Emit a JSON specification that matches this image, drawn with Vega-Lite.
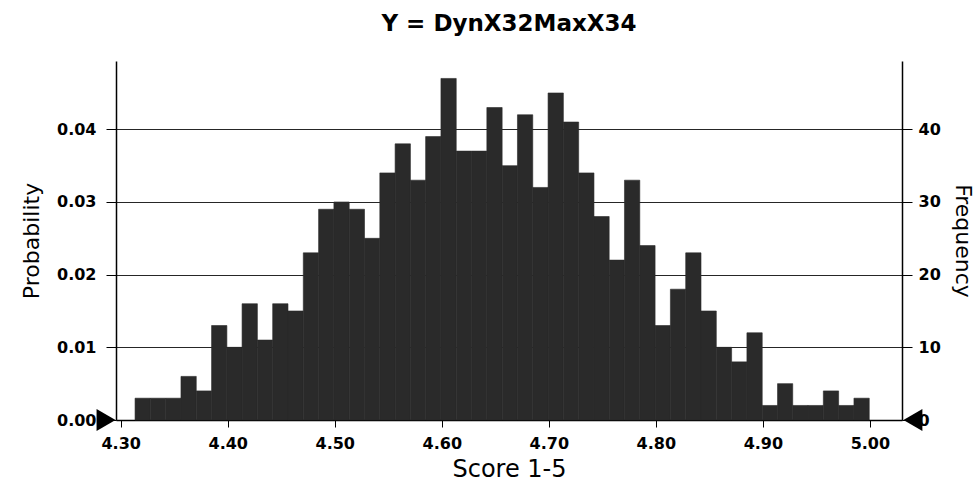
{
  "$schema": "https://vega.github.io/schema/vega-lite/v6.json",
  "width": 786,
  "height": 359,
  "autosize": {"type": "none"},
  "padding": {"left": 116, "top": 61, "right": 76, "bottom": 75},
  "background": "white",
  "config": {
    "view": {"stroke": null},
    "font": "DejaVu Sans",
    "axis": {"labelFont": "DejaVu Sans", "titleFont": "DejaVu Sans", "labelColor": "black", "titleColor": "black", "domainColor": "black", "tickColor": "black"}
  },
  "title": {"text": "Y = DynX32MaxX34", "font": "DejaVu Sans", "fontSize": 23, "fontWeight": "bold", "color": "black", "anchor": "middle", "baseline": "alphabetic", "offset": 7},
  "datasets": {
    "bins": [
      {"start": 4.3134, "end": 4.3277, "frequency": 3},
      {"start": 4.3277, "end": 4.3420, "frequency": 3},
      {"start": 4.3420, "end": 4.3563, "frequency": 3},
      {"start": 4.3563, "end": 4.3706, "frequency": 6},
      {"start": 4.3706, "end": 4.3849, "frequency": 4},
      {"start": 4.3849, "end": 4.3992, "frequency": 13},
      {"start": 4.3992, "end": 4.4134, "frequency": 10},
      {"start": 4.4134, "end": 4.4277, "frequency": 16},
      {"start": 4.4277, "end": 4.4420, "frequency": 11},
      {"start": 4.4420, "end": 4.4563, "frequency": 16},
      {"start": 4.4563, "end": 4.4706, "frequency": 15},
      {"start": 4.4706, "end": 4.4849, "frequency": 23},
      {"start": 4.4849, "end": 4.4992, "frequency": 29},
      {"start": 4.4992, "end": 4.5135, "frequency": 30},
      {"start": 4.5135, "end": 4.5278, "frequency": 29},
      {"start": 4.5278, "end": 4.5421, "frequency": 25},
      {"start": 4.5421, "end": 4.5564, "frequency": 34},
      {"start": 4.5564, "end": 4.5707, "frequency": 38},
      {"start": 4.5707, "end": 4.5849, "frequency": 33},
      {"start": 4.5849, "end": 4.5992, "frequency": 39},
      {"start": 4.5992, "end": 4.6135, "frequency": 47},
      {"start": 4.6135, "end": 4.6278, "frequency": 37},
      {"start": 4.6278, "end": 4.6421, "frequency": 37},
      {"start": 4.6421, "end": 4.6564, "frequency": 43},
      {"start": 4.6564, "end": 4.6707, "frequency": 35},
      {"start": 4.6707, "end": 4.6850, "frequency": 42},
      {"start": 4.6850, "end": 4.6993, "frequency": 32},
      {"start": 4.6993, "end": 4.7136, "frequency": 45},
      {"start": 4.7136, "end": 4.7279, "frequency": 41},
      {"start": 4.7279, "end": 4.7422, "frequency": 34},
      {"start": 4.7422, "end": 4.7564, "frequency": 28},
      {"start": 4.7564, "end": 4.7707, "frequency": 22},
      {"start": 4.7707, "end": 4.7850, "frequency": 33},
      {"start": 4.7850, "end": 4.7993, "frequency": 24},
      {"start": 4.7993, "end": 4.8136, "frequency": 13},
      {"start": 4.8136, "end": 4.8279, "frequency": 18},
      {"start": 4.8279, "end": 4.8422, "frequency": 23},
      {"start": 4.8422, "end": 4.8565, "frequency": 15},
      {"start": 4.8565, "end": 4.8708, "frequency": 10},
      {"start": 4.8708, "end": 4.8851, "frequency": 8},
      {"start": 4.8851, "end": 4.8994, "frequency": 12},
      {"start": 4.8994, "end": 4.9137, "frequency": 2},
      {"start": 4.9137, "end": 4.9279, "frequency": 5},
      {"start": 4.9279, "end": 4.9422, "frequency": 2},
      {"start": 4.9422, "end": 4.9565, "frequency": 2},
      {"start": 4.9565, "end": 4.9708, "frequency": 4},
      {"start": 4.9708, "end": 4.9851, "frequency": 2},
      {"start": 4.9851, "end": 4.9994, "frequency": 3}
    ],
    "grabbers": [
      {"pos": 4.2863, "level": 0, "side": "left"},
      {"pos": 5.0402, "level": 0, "side": "right"}
    ]
  },
  "layer": [
    {
      "data": {"name": "bins"},
      "mark": {"type": "bar", "color": "#2a2a2a", "stroke": "#2a2a2a", "strokeWidth": 0.6},
      "encoding": {
        "x": {
          "field": "start", "type": "quantitative",
          "scale": {"domain": [4.2956, 5.03], "nice": false, "zero": false},
          "axis": {"title": "Score 1-5", "values": [4.3, 4.4, 4.5, 4.6, 4.7, 4.8, 4.9, 5.0], "format": ".2f", "grid": false, "tickSize": 7, "labelPadding": 8, "labelFontSize": 16, "labelFontWeight": "bold", "titleFontSize": 24, "titleFontWeight": "normal", "titlePadding": 6, "domainWidth": 1.5}
        },
        "x2": {"field": "end"},
        "y": {
          "field": "frequency", "type": "quantitative",
          "scale": {"domain": [0, 49.4], "nice": false},
          "axis": {"orient": "left", "title": "Probability", "values": [0, 10, 20, 30, 40], "labelExpr": "format(datum.value / 1000, '.2f')", "grid": true, "gridColor": "black", "gridWidth": 1, "gridOpacity": 0.85, "tickSize": 10, "labelPadding": 10, "labelFontSize": 16, "labelFontWeight": "bold", "titleFontSize": 22, "titleFontWeight": "normal", "titlePadding": 13, "domainWidth": 1.5}
        },
        "y2": {"datum": 0}
      }
    },
    {
      "data": {"name": "grabbers"},
      "mark": {"type": "point", "filled": true, "color": "black", "opacity": 1, "size": 480},
      "encoding": {
        "x": {"field": "pos", "type": "quantitative", "title": "Score 1-5"},
        "y": {
          "field": "level", "type": "quantitative",
          "axis": {"orient": "right", "title": "Frequency", "values": [0, 10, 20, 30, 40], "format": "d", "grid": false, "tickSize": 10, "labelPadding": 6, "labelFontSize": 16, "labelFontWeight": "bold", "titleFontSize": 22, "titleFontWeight": "normal", "titlePadding": 10, "domainWidth": 1.5}
        },
        "shape": {"field": "side", "type": "nominal", "scale": {"domain": ["left", "right"], "range": ["triangle-right", "triangle-left"]}, "legend": null}
      }
    }
  ],
  "resolve": {"axis": {"y": "independent"}}
}
